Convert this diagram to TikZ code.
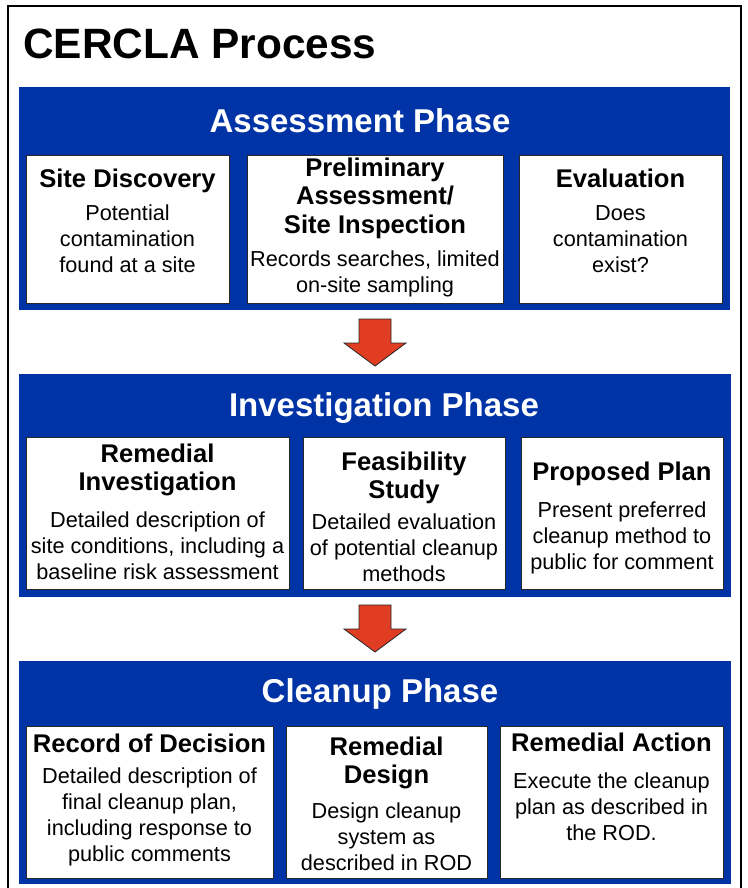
\documentclass[tikz,border=0pt]{standalone}
\usepackage{fontspec}
\setmainfont{Liberation Sans}
\definecolor{phaseblue}{RGB}{0,51,166}
\definecolor{arrowred}{RGB}{224,61,35}
\definecolor{boxline}{RGB}{40,40,40}
\tikzset{
  panel/.style={anchor=north west, inner sep=0pt, fill=phaseblue, draw=none},
  stepbox/.style={anchor=north west, inner sep=0pt, fill=white, draw=boxline, line width=1.1pt},
  phasettl/.style={anchor=base, inner sep=0pt, text=white, font=\fontsize{33}{38}\selectfont\bfseries},
  ttl/.style={anchor=base, inner sep=0pt, font=\fontsize{25.6}{28.7}\selectfont\bfseries},
  bdy/.style={anchor=base, inner sep=0pt, font=\fontsize{21.7}{26}\selectfont},
  downarrow/.style={fill=arrowred, draw=black!85, line width=0.8pt, line join=miter},
}
\newcommand{\lines}[1]{\begin{tabular}[t]{@{}c@{}}#1\end{tabular}}
\begin{document}
\begin{tikzpicture}[x=1pt,y=-1pt]
\useasboundingbox (0,0) rectangle (747,888);
\fill[white] (0,0) rectangle (747,888);
% outer frame
\coordinate (fbl) at (8,895);
\coordinate (ftl) at (8,6);
\coordinate (ftr) at (741,6);
\coordinate (fbr) at (741,895);
\draw[line width=2.5pt] (fbl) -- (ftl) -- (ftr) -- (fbr);
\node[anchor=base west, inner sep=0pt, font=\fontsize{42.4}{48}\selectfont\bfseries] (title) at (23,59) {CERCLA Process};

% ---------------- Assessment ----------------
\node[panel, minimum width=711pt, minimum height=223pt] (pa) at (19,87) {};
\node[phasettl] (pat) at (360,132) {Assessment Phase};
\node[stepbox, minimum width=203pt, minimum height=148pt] (sd) at (26,155) {};
\node[stepbox, minimum width=256pt, minimum height=148pt] (pasi) at (247,155) {};
\node[stepbox, minimum width=203pt, minimum height=148pt] (ev) at (519,155) {};
\node[ttl] (sdt) at (127.5,187) {Site Discovery};
\node[bdy] (sdb) at (127.5,220) {\lines{Potential\\contamination\\found at a site}};
\node[ttl] (pasit) at (375,176) {\lines{Preliminary\\Assessment/\\Site Inspection}};
\node[bdy] (pasib) at (375,266) {\lines{Records searches, limited\\on-site sampling}};
\node[ttl] (evt) at (620.5,187) {Evaluation};
\node[bdy] (evb) at (620.5,220) {\lines{Does\\contamination\\exist?}};

% arrow 1
\draw[downarrow] (359,319) -- (391,319) -- (391,343) -- (406,343) -- (375,366) -- (344,343) -- (359,343) -- cycle;

% ---------------- Investigation ----------------
\node[panel, minimum width=712pt, minimum height=223pt] (pi) at (19,374) {};
\node[phasettl] (pit) at (384,416) {Investigation Phase};
\node[stepbox, minimum width=263pt, minimum height=152pt] (ri) at (26,437) {};
\node[stepbox, minimum width=202pt, minimum height=152pt] (fs) at (303,437) {};
\node[stepbox, minimum width=202pt, minimum height=152pt] (pp) at (521,437) {};
\node[ttl] (rit) at (157.5,462) {\lines{Remedial\\Investigation}};
\node[bdy] (rib) at (157.5,527) {\lines{Detailed description of\\site conditions, including a\\baseline risk assessment}};
\node[ttl] (fst) at (404,470) {\lines{Feasibility\\Study}};
\node[bdy] (fsb) at (404,529) {\lines{Detailed evaluation\\of potential cleanup\\methods}};
\node[ttl] (ppt) at (622,480) {Proposed Plan};
\node[bdy] (ppb) at (622,517) {\lines{Present preferred\\cleanup method to\\public for comment}};

% arrow 2
\draw[downarrow] (359,605) -- (391,605) -- (391,629) -- (406,629) -- (375,652) -- (344,629) -- (359,629) -- cycle;

% ---------------- Cleanup ----------------
\node[panel, minimum width=712pt, minimum height=223pt] (pc) at (19,661) {};
\node[phasettl] (pct) at (380,702) {Cleanup Phase};
\node[stepbox, minimum width=247pt, minimum height=152pt] (rod) at (26,726) {};
\node[stepbox, minimum width=201pt, minimum height=152pt] (rd) at (286,726) {};
\node[stepbox, minimum width=223pt, minimum height=152pt] (ra) at (500,726) {};
\node[ttl] (rodt) at (149.5,752) {Record of Decision};
\node[bdy] (rodb) at (149.5,783) {\lines{Detailed description of\\final cleanup plan,\\including response to\\public comments}};
\node[ttl] (rdt) at (386.5,755) {\lines{Remedial\\Design}};
\node[bdy] (rdb) at (386.5,818) {\lines{Design cleanup\\system as\\described in ROD}};
\node[ttl] (rat) at (611.5,751) {Remedial Action};
\node[bdy] (rab) at (611.5,788) {\lines{Execute the cleanup\\plan as described in\\the ROD.}};
\end{tikzpicture}
\end{document}
